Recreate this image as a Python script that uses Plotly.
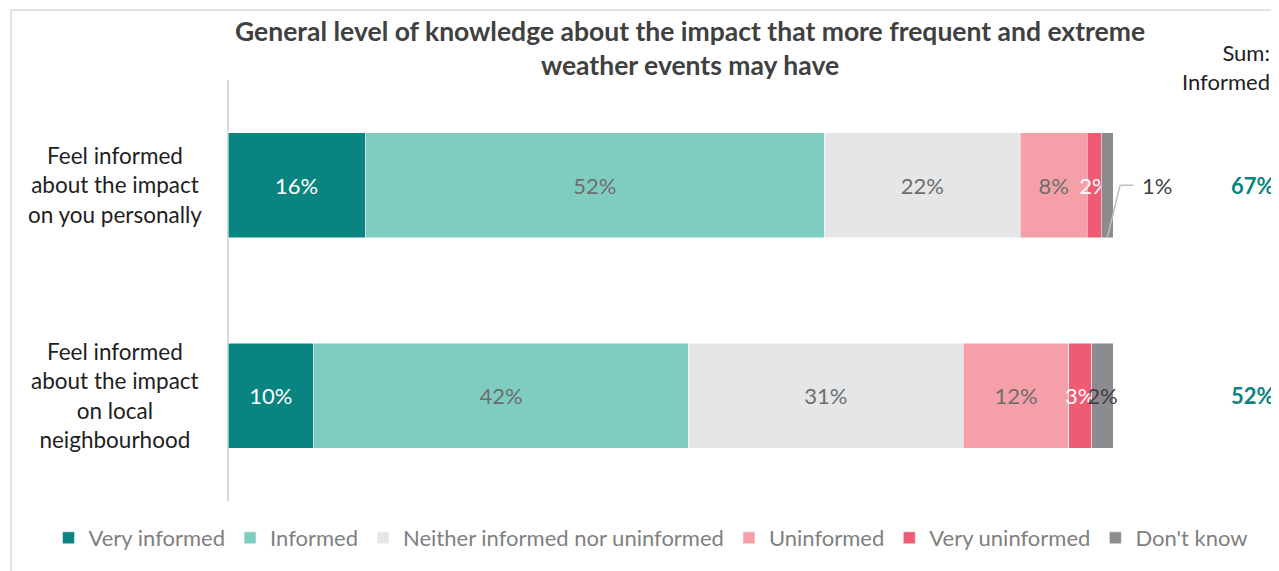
import plotly.graph_objects as go

# ---- data ----
categories = ["personal", "local"]
category_labels = [
    "Feel informed<br>about the impact<br>on you personally",
    "Feel informed<br>about the impact<br>on local<br>neighbourhood",
]
series_names = ["Very informed", "Informed", "Neither informed nor uninformed",
                "Uninformed", "Very uninformed", "Don't know"]
very_informed = [15.5, 9.7]
informed = [51.9, 42.3]
neither = [22.1, 31.1]
uninformed = [7.6, 11.9]
very_uninformed = [1.6, 2.6]
dont_know = [1.3, 2.4]
sum_informed_labels = ["67%", "52%"]

series_values = [very_informed, informed, neither, uninformed, very_uninformed, dont_know]
colors = ["#0a8480", "#7fcdc0", "#e5e6e8", "#f59fa9", "#ef5b73", "#8d8b90"]
text_colors = ["#ffffff", "#6e6e6e", "#6e6e6e", "#6e6e6e", "#ffffff", "#404040"]

FONT = "Lato"
OFF = 8                      # page body margin of the browser
FIG_W, FIG_H = 1279 - OFF, 571 - OFF
# plot area, in screenshot pixels
L, R, T, B = 20, 1270, 80, 501
ZERO_PX, PX_PER_PCT = 228, 8.85


def px_x(p):
    return (p - L) / (R - L)


def px_y(p):
    return (B - p) / (B - T)


fig = go.Figure()
for name, vals, col, tcol in zip(series_names, series_values, colors, text_colors):
    texts = [f"{v:.0f}%" for v in vals]
    if name == "Don't know":
        texts = ["", texts[1]]
    fig.add_trace(go.Bar(
        name=name, y=categories, x=vals, orientation="h",
        marker=dict(color=col, line=dict(color="#ffffff", width=0.5)),
        text=texts, textposition="inside", insidetextanchor="middle",
        constraintext="none", cliponaxis=False, textangle=0,
        textfont=dict(color=tcol, size=22, family=FONT),
        width=0.5, hoverinfo="skip",
    ))

# outside label for the small "Don't know" value of first bar, with leader line
tot0 = sum(s[0] for s in series_values)
xd = tot0 - dont_know[0] / 2
fig.add_shape(type="line", xref="x", yref="y", x0=xd, y0=0.25, x1=tot0 + 0.8, y1=0,
              line=dict(color="#bfbfbf", width=1.5))
fig.add_shape(type="line", xref="x", yref="y", x0=tot0 + 0.8, y0=0, x1=tot0 + 2.3, y1=0,
              line=dict(color="#bfbfbf", width=1.5))
fig.add_annotation(x=tot0 + 3.0, y=0, xref="x", yref="y", text=f"{dont_know[0]:.0f}%",
                   showarrow=False, xanchor="left",
                   font=dict(size=22, color="#404040", family=FONT))

# category labels
for i, lab in enumerate(category_labels):
    fig.add_annotation(x=px_x(115), y=i, xref="paper", yref="y", text=lab, showarrow=False,
                       xanchor="center", align="center",
                       font=dict(size=22.5, color="#1e1e1e", family=FONT))

# title
fig.add_annotation(
    x=px_x(690), y=px_y(47.5), xref="paper", yref="paper",
    text="<b>General level of knowledge about the impact that more frequent and extreme<br>weather events may have</b>",
    showarrow=False, xanchor="center", yanchor="middle", align="center",
    font=dict(size=26.5, color="#404040", family=FONT))

# sum column
fig.add_annotation(x=px_x(1272), y=px_y(66.5), xref="paper", yref="paper",
                   text="Sum:<br>Informed", showarrow=False, xanchor="right", yanchor="middle",
                   align="right", font=dict(size=22, color="#1e1e1e", family=FONT))
for i, s in enumerate(sum_informed_labels):
    fig.add_annotation(x=px_x(1253), y=i, xref="paper", yref="y", text=f"<b>{s}</b>",
                       showarrow=False, xanchor="center",
                       font=dict(size=22, color="#0a8480", family=FONT))

# frame
fig.add_shape(type="line", xref="paper", yref="paper", x0=px_x(11), x1=px_x(1300),
              y0=px_y(10), y1=px_y(10), line=dict(color="#e3e3e3", width=2))
fig.add_shape(type="line", xref="paper", yref="paper", x0=px_x(11), x1=px_x(11),
              y0=px_y(10), y1=px_y(600), line=dict(color="#e3e3e3", width=2))

fig.update_layout(
    barmode="stack",
    width=FIG_W, height=FIG_H,
    margin=dict(l=L - OFF, r=FIG_W - (R - OFF), t=T - OFF, b=FIG_H - (B - OFF)),
    paper_bgcolor="white", plot_bgcolor="white",
    xaxis=dict(range=[(L - ZERO_PX) / PX_PER_PCT, (R - ZERO_PX) / PX_PER_PCT],
               showgrid=False, showticklabels=False, showline=False,
               zeroline=True, zerolinecolor="#d9d9d9", zerolinewidth=2, fixedrange=True),
    yaxis=dict(range=[1.5, -0.5], showgrid=False, zeroline=False, showticklabels=False,
               showline=False, ticks=""),
    legend=dict(orientation="h", x=px_x(651), xref="paper", xanchor="center",
                y=px_y(538), yref="paper", yanchor="middle",
                font=dict(size=22, color="#808080", family=FONT),
                itemwidth=30, traceorder="normal"),
    font=dict(family=FONT),
    showlegend=True,
)

fig.write_html("out.html")
